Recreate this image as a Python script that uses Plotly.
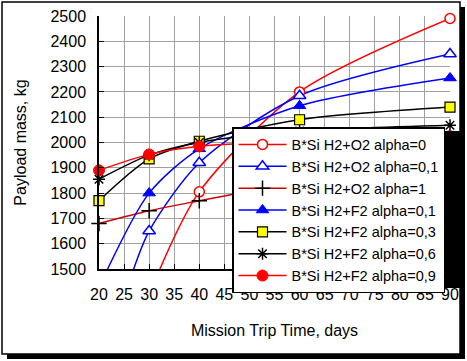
import plotly.graph_objects as go

# ---- data ----
marker_days = [20, 30, 40, 60, 90]

o2_a0_x = [31.5, 40, 60, 90]
o2_a0_y = [1470, 1805, 2200, 2490]

o2_a01_x = [26.4, 30, 40, 60, 90]
o2_a01_y = [1470, 1650, 1920, 2185, 2350]

o2_a1_x = [20, 30, 40, 60, 90]
o2_a1_y = [1680, 1730, 1770, 1845, 1955]

f2_a01_x = [21.0, 30, 40, 60, 90]
f2_a01_y = [1470, 1800, 1975, 2145, 2255]

f2_a03_x = [20, 30, 40, 60, 90]
f2_a03_y = [1770, 1935, 2005, 2090, 2140]

f2_a06_x = [20, 30, 40, 60, 90]
f2_a06_y = [1855, 1950, 2000, 2045, 2068]

f2_a09_x = [20, 30, 40, 60, 90]
f2_a09_y = [1890, 1953, 1985, 2005, 2025]

names = ["B*Si H2+O2 alpha=0", "B*Si H2+O2 alpha=0,1", "B*Si H2+O2 alpha=1",
         "B*Si H2+F2 alpha=0,1", "B*Si H2+F2 alpha=0,3", "B*Si H2+F2 alpha=0,6",
         "B*Si H2+F2 alpha=0,9"]

x_ticks = list(range(20, 91, 5))
y_ticks = list(range(1500, 2501, 100))

# ---- styles ----
styles = [
    dict(line="#FF0000", symbol="circle", fill="white", edge="#FF0000", size=10, lw=1.5),
    dict(line="#0000FF", symbol="triangle-up", fill="white", edge="#0000FF", size=11, lw=1.5),
    dict(line="#D00000", symbol="cross-thin", fill="black", edge="black", size=11, lw=1.5),
    dict(line="#0000FF", symbol="triangle-up", fill="#0000FF", edge="#0000FF", size=11, lw=1),
    dict(line="black", symbol="square", fill="#FFFF00", edge="black", size=10, lw=1.2),
    dict(line="black", symbol="asterisk", fill="black", edge="black", size=10, lw=1.5),
    dict(line="#FF0000", symbol="circle", fill="#FF0000", edge="#FF0000", size=11, lw=1),
]

series = [(o2_a0_x, o2_a0_y), (o2_a01_x, o2_a01_y), (o2_a1_x, o2_a1_y),
          (f2_a01_x, f2_a01_y), (f2_a03_x, f2_a03_y), (f2_a06_x, f2_a06_y),
          (f2_a09_x, f2_a09_y)]

FONT = "Liberation Sans, Arial, sans-serif"
W, H = 467, 361
L, R, T, B = 99, 17, 16, 92
PW, PH = W - L - R, H - T - B


def px(x):
    return (x - L) / PW


def py(y):
    return (H - B - y) / PH


fig = go.Figure()

for (xs, ys), st, nm in zip(series, styles, names):
    fig.add_trace(go.Scatter(x=xs, y=ys, mode="lines", showlegend=False,
                             line=dict(color=st["line"], width=1.5, shape="spline", smoothing=0.8),
                             hoverinfo="skip"))
for (xs, ys), st, nm in zip(series, styles, names):
    mx = [a for a in xs if a in marker_days]
    my = [b for a, b in zip(xs, ys) if a in marker_days]
    fig.add_trace(go.Scatter(x=mx, y=my, mode="markers", showlegend=False, cliponaxis=False,
                             marker=dict(symbol=st["symbol"], color=st["fill"], size=st["size"],
                                         line=dict(color=st["edge"], width=st["lw"]))))
for st, nm in zip(styles, names):
    fig.add_trace(go.Scatter(x=[None], y=[None], mode="lines+markers", name=nm,
                             line=dict(color=st["line"], width=1.5),
                             marker=dict(symbol=st["symbol"], color=st["fill"], size=st["size"],
                                         line=dict(color=st["edge"], width=st["lw"]))))

shapes = [
    # figure drop shadow strips + border
    dict(type="rect", xref="paper", yref="paper", x0=px(460), x1=px(465), y0=py(7), y1=py(359),
         fillcolor="black", line=dict(width=0), layer="above"),
    dict(type="rect", xref="paper", yref="paper", x0=px(7), x1=px(465), y0=py(354), y1=py(359),
         fillcolor="black", line=dict(width=0), layer="above"),
    dict(type="rect", xref="paper", yref="paper", x0=px(2), x1=px(460), y0=py(2), y1=py(354),
         line=dict(color="black", width=1.5), layer="above"),
    # legend shadow
    dict(type="rect", xref="paper", yref="paper", x0=px(236), x1=px(464), y0=py(131), y1=py(288),
         fillcolor="black", line=dict(width=0), layer="above"),
]

fig.update_layout(
    width=W, height=H,
    margin=dict(l=L, r=R, t=T, b=B, pad=0, autoexpand=False),
    paper_bgcolor="white", plot_bgcolor="white",
    font=dict(family=FONT, size=16, color="black"),
    shapes=shapes,
    xaxis=dict(range=[20, 90], tickvals=x_ticks, ticktext=[str(v) for v in x_ticks],
               automargin=False,
               showgrid=True, gridcolor="#A0A0A0", gridwidth=1,
               showline=True, linecolor="black", linewidth=1.5,
               ticks="inside", ticklen=5, tickcolor="black",
               ticklabelstandoff=10,
               tickfont=dict(size=16), zeroline=False,
               title=dict(text="Mission Trip Time, days", font=dict(size=16), standoff=23)),
    yaxis=dict(range=[1500, 2500], tickvals=y_ticks,
               automargin=False,
               showgrid=True, gridcolor="#A0A0A0", gridwidth=1,
               showline=True, linecolor="black", linewidth=1.5,
               ticks="inside", ticklen=5, tickcolor="black",
               ticklabelstandoff=8,
               tickfont=dict(size=16), zeroline=False,
               title=dict(text="Payload mass, kg", font=dict(size=16), standoff=20)),
    legend=dict(x=px(232), y=py(127), xanchor="left", yanchor="top",
                bgcolor="white", bordercolor="black", borderwidth=1.5,
                font=dict(size=14.5), itemwidth=48, tracegroupgap=0),
)

fig.write_html("out.html", config={"displayModeBar": False},
               post_script="document.body.style.margin='0';document.body.style.overflow='hidden';")
